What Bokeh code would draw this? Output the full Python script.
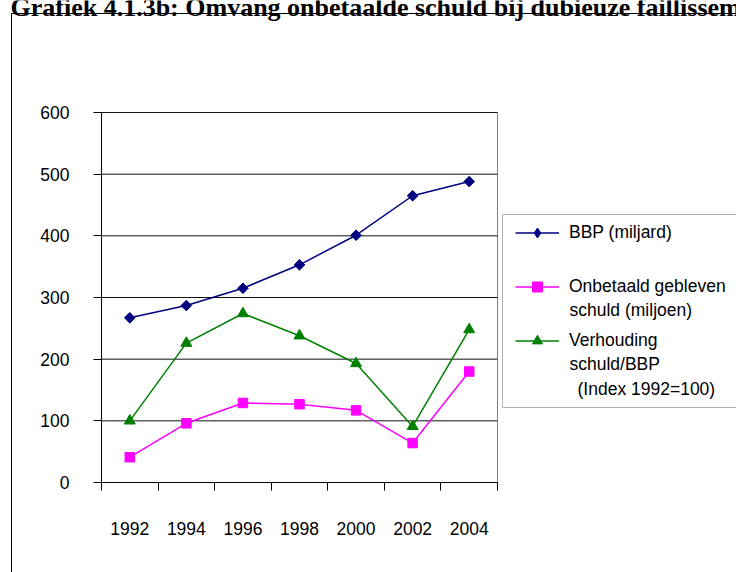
import numpy as np
from bokeh.plotting import figure
from bokeh.models import (Range1d, FixedTicker, Legend, LegendItem, Label,
                          BoxAnnotation, InlineStyleSheet)
from bokeh.embed import file_html
from bokeh.resources import INLINE

title_text = "Grafiek 4.1.3b: Omvang onbetaalde schuld bij dubieuze faillissementen"
years = [1992, 1994, 1996, 1998, 2000, 2002, 2004]
bbp = [267, 287, 315, 353, 401, 465, 488]
onbetaald = [41, 96, 129, 127, 117, 64, 180]
verhouding = [100, 226, 274, 238, 193, 91, 248]
y_ticks = [0, 100, 200, 300, 400, 500, 600]
legend_first = ["BBP (miljard)", "Onbetaald gebleven", "Verhouding"]
legend_more = ["schuld (miljoen)", "schuld/BBP", "(Index 1992=100)"]
colors = ["#000080", "#FF00FF", "#008000"]

# ---- layout (pixels) ----
W, H = 736, 572
PX_L, PX_R, PX_T, PX_B = 101, 497, 112, 482

step = years[1] - years[0]
bounds = [y - step / 2 for y in years] + [years[-1] + step / 2]

xs = (PX_R - PX_L) / (bounds[-1] - bounds[0])
ys = (PX_B - PX_T) / (y_ticks[-1] - y_ticks[0])
x_start = bounds[0] - PX_L / xs
x_end = bounds[-1] + (W - PX_R) / xs
y_start = y_ticks[0] - (H - PX_B) / ys
y_end = y_ticks[-1] + PX_T / ys


def px2x(px):
    return x_start + px / xs


def px2y(py):
    return y_end - py / ys


FONT = "Liberation Sans"
FS = "17.5px"

box_css = InlineStyleSheet(css="""
:host::after {
  content: "";
  position: absolute;
  left: 11px; top: 13px; right: 0px; bottom: 0px;
  border-left: 1.5px solid #000;
  border-top: 1.5px solid #000;
  pointer-events: none;
  z-index: 5;
}
""")

p = figure(width=W, height=H, output_backend="svg", toolbar_location=None,
           x_range=Range1d(x_start, x_end), y_range=Range1d(y_start, y_end),
           min_border=0, stylesheets=[box_css])
p.background_fill_color = "white"
p.border_fill_color = "white"
p.outline_line_color = None
p.xgrid.visible = False
p.ygrid.visible = False

# x axis
xa = p.xaxis[0]
xa.fixed_location = y_ticks[0]
xa.bounds = (bounds[0], bounds[-1])
xa.ticker = FixedTicker(ticks=years, minor_ticks=bounds)
xa.major_tick_line_color = None
xa.major_tick_out = 0
xa.major_tick_in = 0
xa.minor_tick_out = 8
xa.minor_tick_in = 0
xa.minor_tick_line_color = "black"
xa.axis_line_color = "black"
xa.major_label_standoff = 31
xa.major_label_text_font = FONT
xa.major_label_text_font_size = FS
xa.major_label_text_color = "black"

# y axis
ya = p.yaxis[0]
ya.fixed_location = bounds[0]
ya.bounds = (y_ticks[0], y_ticks[-1])
ya.ticker = FixedTicker(ticks=y_ticks)
ya.major_tick_out = 8
ya.major_tick_in = 0
ya.major_tick_line_color = "black"
ya.minor_tick_line_color = None
ya.axis_line_color = "black"
ya.major_label_standoff = 24
ya.major_label_text_font = FONT
ya.major_label_text_font_size = FS
ya.major_label_text_color = "black"

# plot area border and horizontal grid lines
p.quad(left=bounds[0], right=bounds[-1], bottom=y_ticks[0], top=y_ticks[-1],
       fill_color=None, line_color="#808080", line_width=1)
p.segment(x0=[bounds[0]] * (len(y_ticks) - 1), x1=[bounds[-1]] * (len(y_ticks) - 1),
          y0=y_ticks[1:], y1=y_ticks[1:], line_color="#111111", line_width=1)

# series
r1l = p.line(years, bbp, line_color=colors[0], line_width=1.5)
# diamond glyph (used for the legend swatch; hidden under the rotated squares)
r1sw = p.scatter(years, bbp, marker="diamond", size=9.5,
                 fill_color=colors[0], line_color=colors[0], line_width=1)
r1m = p.scatter(years, bbp, marker="square", angle=np.pi / 4, size=7.5,
                fill_color=colors[0], line_color=colors[0])
r3l = p.line(years, verhouding, line_color=colors[2], line_width=1.5)
r3m = p.scatter(years, verhouding, marker="triangle", size=11,
                fill_color=colors[2], line_color=colors[2])
r2l = p.line(years, onbetaald, line_color=colors[1], line_width=1.5)
r2m = p.scatter(years, onbetaald, marker="square", size=9.5,
                fill_color=colors[1], line_color=colors[1])

# legend box
p.add_layout(BoxAnnotation(left=px2x(502), right=px2x(745),
                           top=px2y(214), bottom=px2y(407),
                           fill_color="white", fill_alpha=1,
                           line_color="black", line_width=1))

# legend entries (glyph + first line)
LG_TOP, LG_ITEM, LG_SPACE = 220, 25, 29
legend = Legend(
    items=[
        LegendItem(label=legend_first[0], renderers=[r1l, r1sw]),
        LegendItem(label=legend_first[1], renderers=[r2l, r2m]),
        LegendItem(label=legend_first[2], renderers=[r3l, r3m]),
    ],
    location=(515, H - LG_TOP - (3 * LG_ITEM + 2 * LG_SPACE)),
    padding=0, spacing=LG_SPACE, margin=0,
    glyph_width=44, glyph_height=LG_ITEM, label_standoff=10, label_height=LG_ITEM,
    label_text_font=FONT, label_text_font_size=FS, label_text_color="black",
    border_line_alpha=0, background_fill_alpha=0,
)
p.add_layout(legend)

# continuation lines of the legend texts
for txt, lx, ly in zip(legend_more, [569, 569, 577], [309, 363, 388]):
    p.add_layout(Label(x=lx, y=H - ly, x_units="screen", y_units="screen",
                       text=txt, text_font=FONT, text_font_size=FS,
                       text_baseline="middle", text_color="black"))

# title
p.add_layout(Label(x=10, y=H - 7, x_units="screen", y_units="screen",
                   text=title_text, text_font="Liberation Serif",
                   text_font_style="bold", text_font_size="26px",
                   text_baseline="alphabetic", text_color="black"))

open("out.html", "w").write(file_html(p, INLINE))
